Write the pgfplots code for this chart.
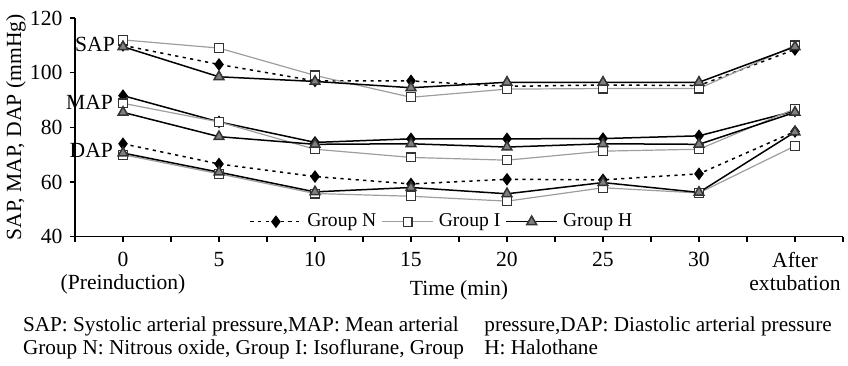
\documentclass[border=0pt]{standalone}
\usepackage{fontspec}
\setmainfont{Liberation Serif}
\usepackage{pgfplots}
\pgfplotsset{compat=1.18}
\newlength\px \setlength\px{0.5pt}
\definecolor{lineI}{gray}{0.62}
\definecolor{fillH}{gray}{0.5}
\definecolor{edgeH}{gray}{0.2}
\newcommand\fs{\fontsize{10.8}{11.5}\selectfont}
\newcommand\fc{\fontsize{10.6}{11.5}\selectfont}
\newcommand\fl{\fontsize{9.8}{11}\selectfont}
\begin{document}
\fs
\begin{tikzpicture}
\useasboundingbox (-75\px,-128.3\px) rectangle (773\px,236.7\px);
\begin{axis}[
  at={(0,0)}, anchor=south west, scale only axis,
  width=768\px, height=218.7\px,
  xmin=-0.5, xmax=7.5, ymin=40, ymax=120,
  axis x line*=bottom, axis y line*=left,
  axis line style={line width=0.6pt},
  xtick={0,...,7},
  xticklabels={{0\\(Preinduction)},5,10,15,20,25,30,{After\\extubation}},
  minor xtick={-0.5,0.5,...,7.5},
  ytick={40,60,...,120},
  tick align=outside, major tick length=5\px, minor tick length=5\px,
  tick style={line width=0.6pt, black},
  /pgf/number format/assume math mode=true,
  xticklabel style={align=center, font=\fs, yshift=-3\px},
  yticklabel style={font=\fs},
  xlabel={Time (min)},
  xlabel style={at={(axis description cs:0.5,-0.247)}, anchor=center, font=\fs},
  ylabel={SAP, MAP, DAP (mmHg)},
  ylabel style={at={(axis description cs:-0.0768,0.5)}, anchor=center, font=\fs},
  legend columns=3,
  legend style={at={(axis description cs:0.479,0.0686)}, anchor=center, draw=none, fill=none,
    font=\fl, column sep=1\px, inner sep=0pt},
  legend image code/.code={\draw[mark repeat=2,mark phase=2,#1] plot coordinates {(0cm,0cm)(0.45cm,0cm)(0.9cm,0cm)};},
  clip=false,
]
\pgfplotsset{
  grpN/.style={black, line width=0.75pt, dash pattern=on 1.6pt off 2.2pt, mark=diamond*, mark size=2.6pt, mark options={solid, fill=black}},
  grpNs/.style={grpN, solid},
  grpI/.style={lineI, line width=0.6pt, mark=square*, mark size=2.2pt, mark options={solid, fill=white, draw=black!80}},
  grpH/.style={black, line width=0.75pt, mark=triangle*, mark size=2.8pt, mark options={solid, fill=fillH, draw=edgeH}},
}
% SAP
\addplot[grpN] coordinates {(0,110)(1,103)(2,97)(3,97)(4,95)(5,95.5)(6,95.3)(7,108.5)};
\addlegendentry{Group N}
\addplot[grpI] coordinates {(0,112)(1,109)(2,99)(3,91)(4,94)(5,94.2)(6,94.2)(7,110)};
\addlegendentry{Group I}
\addplot[grpH] coordinates {(0,109.5)(1,98.5)(2,96.8)(3,94.5)(4,96.5)(5,96.5)(6,96.5)(7,109.5)};
\addlegendentry{Group H}
% MAP
\addplot[grpNs, forget plot] coordinates {(0,91.6)(1,82)(2,74.5)(3,75.8)(4,75.8)(5,75.9)(6,76.9)(7,86)};
\addplot[grpI, forget plot] coordinates {(0,88.8)(1,82)(2,72)(3,69)(4,68)(5,71.3)(6,72)(7,86.8)};
\addplot[grpH, forget plot] coordinates {(0,85.5)(1,76.6)(2,73.8)(3,74)(4,72.8)(5,74)(6,73.8)(7,85.5)};
% DAP
\addplot[grpN, forget plot] coordinates {(0,74)(1,66.6)(2,62)(3,59.3)(4,61)(5,60.8)(6,63)(7,78.5)};
\addplot[grpI, forget plot] coordinates {(0,70)(1,63)(2,55.8)(3,54.8)(4,53)(5,57.9)(6,56)(7,73.2)};
\addplot[grpH, forget plot] coordinates {(0,70.6)(1,63.6)(2,56.4)(3,58)(4,55.7)(5,59.8)(6,56.2)(7,78.3)};
\node[anchor=east, inner sep=1pt] at (axis cs:-0.06,110.5) {SAP};
\node[anchor=east, inner sep=1pt] at (axis cs:-0.08,89.3) {MAP};
\node[anchor=east, inner sep=1pt] at (axis cs:-0.08,71.7) {DAP};
\end{axis}
\node[anchor=base west, inner sep=0pt, font=\fc] at (-52.3\px,-94.3\px) {SAP: Systolic arterial pressure,MAP: Mean arterial};
\node[anchor=base west, inner sep=0pt, font=\fc] at (409\px,-94.3\px) {pressure,DAP: Diastolic arterial pressure};
\node[anchor=base west, inner sep=0pt, font=\fc] at (-52.3\px,-117.3\px) {Group N: Nitrous oxide, Group I: Isoflurane, Group};
\node[anchor=base west, inner sep=0pt, font=\fc] at (409\px,-117.3\px) {H: Halothane};
\end{tikzpicture}
\end{document}
